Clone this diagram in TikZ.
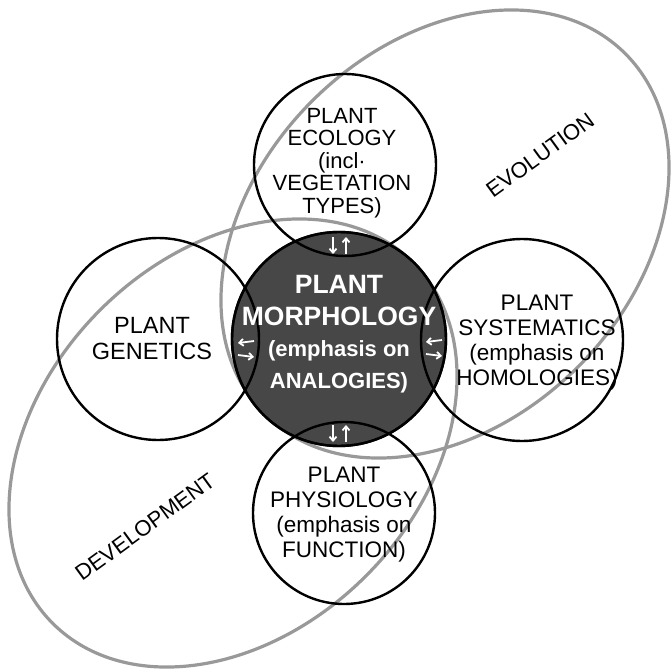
\documentclass[tikz,border=0pt]{standalone}
\usepackage{fontspec}
\setmainfont{Liberation Sans}
\usetikzlibrary{shapes.geometric,arrows.meta}
\begin{document}
\begin{tikzpicture}[x=1pt,y=-1pt,
  bigell/.style={draw=black!40, line width=3.2pt, ellipse, inner sep=0pt, outer sep=0pt,
                 minimum width=510pt, minimum height=376pt, rotate=45},
  ring/.style={draw=black, line width=2.4pt, circle, inner sep=0pt, outer sep=0pt},
  lbl/.style={align=center, font=\fontsize{22.5}{25}\selectfont, inner sep=0pt},
  tag/.style={font=\fontsize{22}{25}\selectfont, inner sep=0pt, rotate=36},
  tip/.style={white, line width=1.8pt, -{Straight Barb[length=4pt,width=7pt]}}
]
\useasboundingbox (0,0) rectangle (670,672);
% large overlapping fields
\node[bigell] (evolution) at (445,234) {};
\node[bigell] (development) at (233,443) {};
% central filled circle
\node[ring, fill=black!72, minimum size=214pt] (morph) at (339,339) {};
% surrounding circles (borders over the dark fill)
\node[ring, minimum size=182pt] (ecol) at (345,165) {};
\node[ring, minimum size=182pt] (phys) at (344,513) {};
\node[ring, minimum size=202pt] (gen) at (158,339) {};
\node[ring, minimum size=202pt] (syst) at (522,340) {};
\node[ring, minimum size=214pt] (morphb) at (339,339) {};
% labels
\node[tag] (evot) at (540,155) {EVOLUTION};
\node[tag] (devt) at (145,527) {DEVELOPMENT};
\node[lbl, font=\fontsize{22}{22.5}\selectfont] (ecolt) at (342,163)
  {PLANT\\ECOLOGY\\(incl·\\VEGETATION\\TYPES)};
\node[lbl, font=\fontsize{23.5}{26}\selectfont] (gent) at (152,339) {PLANT\\GENETICS};
\node[lbl] (systt) at (537,343) {PLANT\\SYSTEMATICS\\(emphasis on\\HOMOLOGIES)};
\node[lbl] (physt) at (344,515) {PLANT\\PHYSIOLOGY\\(emphasis on\\FUNCTION)};
\node[lbl, text=white, font=\bfseries\fontsize{26.5}{31.5}\selectfont] (morpht) at (339,334)
  {PLANT\\MORPHOLOGY\\{\fontsize{22}{26}\selectfont (emphasis on}\\{\fontsize{22}{26}\selectfont ANALOGIES)}};
% exchange arrows in the lens areas
\coordinate (ta1) at (333,237); \coordinate (tb1) at (333,254);
\coordinate (ta2) at (346,254); \coordinate (tb2) at (346,237);
\draw[tip] (ta1) -- (tb1);
\draw[tip] (ta2) -- (tb2);
\coordinate (ba1) at (333,425); \coordinate (bb1) at (333,442);
\coordinate (ba2) at (346,442); \coordinate (bb2) at (346,425);
\draw[tip] (ba1) -- (bb1);
\draw[tip] (ba2) -- (bb2);
\coordinate (la1) at (254,341); \coordinate (lb1) at (238,343);
\coordinate (la2) at (238,355); \coordinate (lb2) at (254,357);
\draw[tip] (la1) -- (lb1);
\draw[tip] (la2) -- (lb2);
\coordinate (ra1) at (442,340); \coordinate (rb1) at (426,342);
\coordinate (ra2) at (426,354); \coordinate (rb2) at (442,356);
\draw[tip] (ra1) -- (rb1);
\draw[tip] (ra2) -- (rb2);
\end{tikzpicture}
\end{document}
